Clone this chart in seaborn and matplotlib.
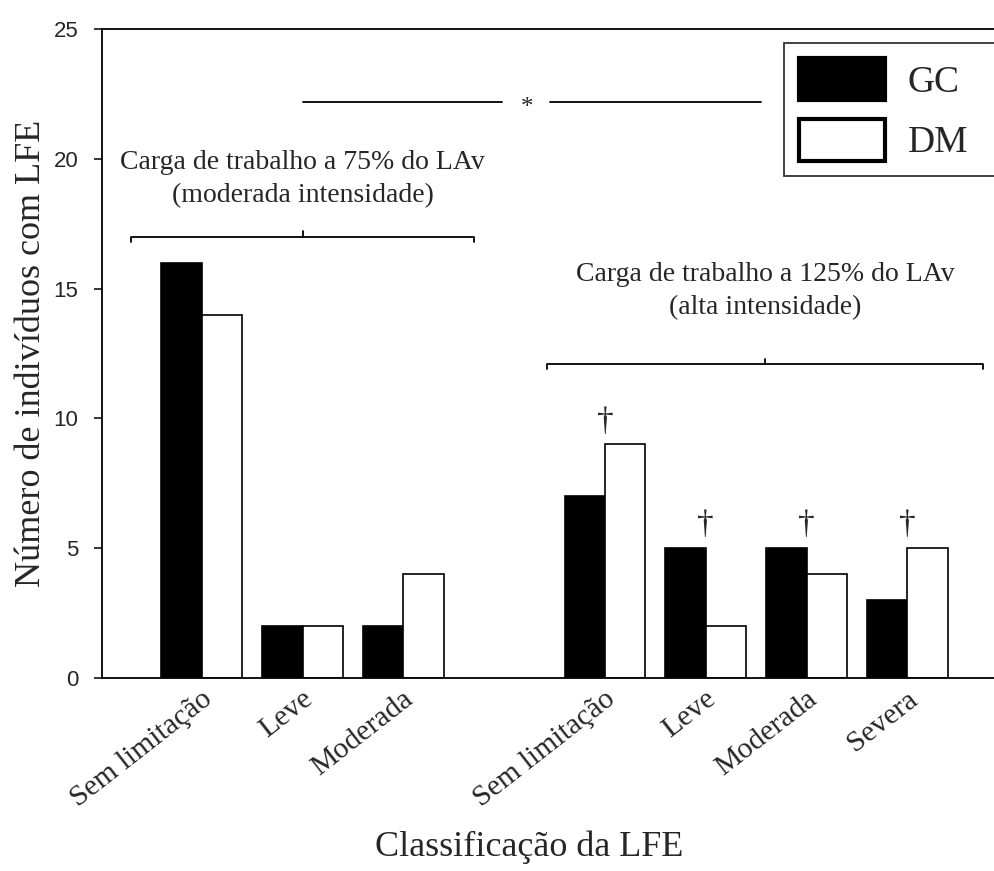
import pandas as pd
import numpy as np
import matplotlib
matplotlib.use('Agg')
import matplotlib.pyplot as plt
from matplotlib.patches import Patch
from matplotlib.transforms import ScaledTranslation
import seaborn as sns

# Dados
categorias = ['Sem limitação', 'Leve', 'Moderada', 'Sem limitação', 'Leve', 'Moderada', 'Severa']
carga = ['75%', '75%', '75%', '125%', '125%', '125%', '125%']
gc = [16, 2, 2, 7, 5, 5, 3]
dm = [14, 2, 4, 9, 2, 4, 5]
grupos = ['GC', 'DM']
yticks = [0, 5, 10, 15, 20, 25]

# posições: um espaço vazio entre as duas cargas
pos = []
for i, c in enumerate(carga):
    pos.append(i if c == '75%' else i + 1)

df = pd.DataFrame({
    'pos': pos * 2,
    'grupo': ['GC'] * len(gc) + ['DM'] * len(dm),
    'valor': gc + dm,
})

sns.set_style('white')
plt.rcParams['font.family'] = ['Liberation Serif', 'DejaVu Serif']

fig = plt.figure(figsize=(9.94, 8.71), dpi=100)
ax = fig.add_axes([102 / 994, 1 - 678 / 871, 1 - 102 / 994, (678 - 29) / 871])

sns.barplot(data=df, x='pos', y='valor', hue='grupo', hue_order=grupos,
            palette={'GC': 'black', 'DM': 'white'}, native_scale=True,
            edgecolor='black', linewidth=1.2, saturation=1, legend=False, ax=ax)

ax.set_xlim(-0.99, 7.86)
ax.set_ylim(0, 25)
ax.set_yticks(yticks)
ax.set_yticklabels([str(t) for t in yticks], fontfamily='Liberation Sans', fontsize=16)
ax.tick_params(axis='y', direction='out', length=6, width=1.3, left=True, pad=11)
ax.tick_params(axis='x', length=0, pad=13)
ax.set_xticks(pos)
ax.set_xticklabels(categorias, rotation=38, ha='right', va='center',
                   rotation_mode='anchor', fontsize=21.5)
for lab in ax.get_xticklabels():
    lab.set_transform(lab.get_transform() + ScaledTranslation(5 / 72, 0, fig.dpi_scale_trans))

for s in ['left', 'bottom', 'top']:
    ax.spines[s].set_linewidth(1.3)
    ax.spines[s].set_color('black')
ax.spines['right'].set_visible(False)

ax.set_ylabel('Número de indivíduos com LFE', fontsize=26)
ax.set_xlabel('Classificação da LFE', fontsize=26)
ax.yaxis.set_label_coords(-0.06, 0.5)
ax.xaxis.set_label_coords((529 - 102) / 892, -0.235)

lw = 1.3
# chaves de cada carga
g1 = [p for p, c in zip(pos, carga) if c == '75%']
g2 = [p for p, c in zip(pos, carga) if c == '125%']
b1 = (g1[0] - 0.7, g1[-1] + 0.7, 17.0)
b2 = (g2[0] - 0.57, g2[-1] + 0.75, 12.1)
for x0, x1, yb in [b1, b2]:
    xm = (x0 + x1) / 2
    ax.plot([x0, x0, x1, x1], [yb - 0.2, yb, yb, yb - 0.2], color='black', lw=lw)
    ax.plot([xm, xm], [yb, yb + 0.2], color='black', lw=lw)

ax.text((b1[0] + b1[1]) / 2, 19.22, 'Carga de trabalho a 75% do LAv\n(moderada intensidade)',
        ha='center', va='center', fontsize=20, linespacing=1.45)
ax.text((b2[0] + b2[1]) / 2, 14.9, 'Carga de trabalho a 125% do LAv\n(alta intensidade)',
        ha='center', va='center', fontsize=20, linespacing=1.45)

# diferença entre cargas
ax.plot([1, 2.98], [22.2, 22.2], color='black', lw=lw)
ax.plot([3.45, 5.55], [22.2, 22.2], color='black', lw=lw)
ax.text(3.23, 21.95, '*', ha='center', va='center', fontsize=18)

# diferença entre GC e DM na carga alta
for p, a, b in zip(pos, gc, dm):
    if p in g2:
        ax.text(p, max(a, b) + 0.3, '†', ha='center', va='bottom', fontsize=24)

handles = [Patch(facecolor='black', edgecolor='black', linewidth=3, joinstyle='round', label='GC'),
           Patch(facecolor='white', edgecolor='black', linewidth=3, joinstyle='round', label='DM')]
leg = fig.legend(handles=handles, loc='upper left', mode='expand',
                 bbox_to_anchor=(784 / 994, 0, 0.3, 1 - 43 / 871),
                 fontsize=27, frameon=True, fancybox=False, handlelength=2.3, handleheight=1.35,
                 handletextpad=0.6, borderpad=0.4, labelspacing=0.5, borderaxespad=0)
leg.get_frame().set_edgecolor('black')
leg.get_frame().set_linewidth(1.3)

fig.savefig('out.png', dpi=100)
